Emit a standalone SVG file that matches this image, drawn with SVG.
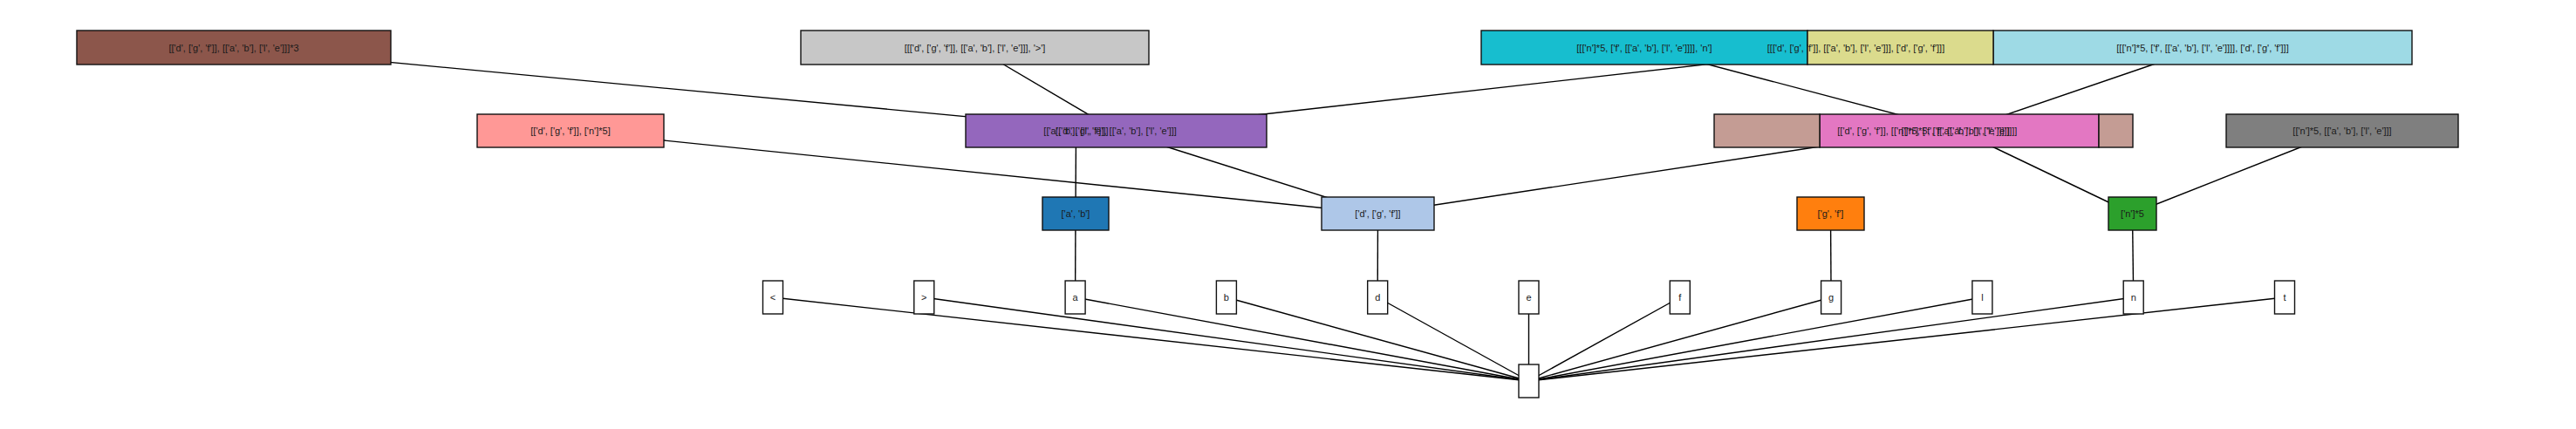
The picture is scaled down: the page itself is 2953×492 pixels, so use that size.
<svg xmlns="http://www.w3.org/2000/svg" width="2953" height="492" viewBox="0 0 2953 492">
<style>
.e{stroke:#000;stroke-width:1.4;fill:none}
.b{stroke:#111;stroke-width:1.4}
.t{font-family:"Liberation Sans",Arial,sans-serif;font-size:11px;fill:#1a1a1a;text-anchor:middle}
</style>
<rect width="2953" height="492" fill="#fff"/>
<g id="edges">
<line class="e" x1="268" y1="54.5" x2="1279.5" y2="150"/>
<line class="e" x1="1117.5" y1="54.5" x2="1279.5" y2="150"/>
<line class="e" x1="2127.5" y1="54.5" x2="1279.5" y2="150"/>
<line class="e" x1="1885" y1="54.5" x2="2246" y2="150"/>
<line class="e" x1="2525" y1="54.5" x2="2246" y2="150"/>
<line class="e" x1="1233.5" y1="150" x2="1233" y2="245"/>
<line class="e" x1="1279.5" y1="150" x2="1579.5" y2="245"/>
<line class="e" x1="654" y1="150" x2="1579.5" y2="245"/>
<line class="e" x1="2205" y1="150" x2="1579.5" y2="245"/>
<line class="e" x1="2246" y1="150" x2="2444.5" y2="245"/>
<line class="e" x1="2685" y1="150" x2="2444.5" y2="245"/>
<line class="e" x1="1233" y1="245" x2="1232.6" y2="341"/>
<line class="e" x1="1579.5" y1="245" x2="1579.2" y2="341"/>
<line class="e" x1="2098.5" y1="245" x2="2099.1" y2="341"/>
<line class="e" x1="2444.5" y1="245" x2="2445.7" y2="341"/>
<line class="e" x1="886" y1="341" x2="1752.5" y2="437"/>
<line class="e" x1="1059.3" y1="341" x2="1752.5" y2="437"/>
<line class="e" x1="1232.6" y1="341" x2="1752.5" y2="437"/>
<line class="e" x1="1405.9" y1="341" x2="1752.5" y2="437"/>
<line class="e" x1="1579.2" y1="341" x2="1752.5" y2="437"/>
<line class="e" x1="1752.5" y1="341" x2="1752.5" y2="437"/>
<line class="e" x1="1925.8" y1="341" x2="1752.5" y2="437"/>
<line class="e" x1="2099.1" y1="341" x2="1752.5" y2="437"/>
<line class="e" x1="2272.4" y1="341" x2="1752.5" y2="437"/>
<line class="e" x1="2445.7" y1="341" x2="1752.5" y2="437"/>
<line class="e" x1="2619" y1="341" x2="1752.5" y2="437"/>
</g>
<g id="node-brown"><rect class="b" x="88" y="35" width="360" height="39" fill="#8c564b"/><text class="t" x="268" y="58.5">[['d', ['g', 'f']], [['a', 'b'], ['l', 'e']]]*3</text></g>
<g id="node-graytop"><rect class="b" x="918" y="35" width="399" height="39" fill="#c7c7c7"/><text class="t" x="1117.5" y="58.5">[[['d', ['g', 'f']], [['a', 'b'], ['l', 'e']]], '&gt;']</text></g>
<g id="node-cyan"><rect class="b" x="1698" y="35" width="374" height="39" fill="#17becf"/><text class="t" x="1885" y="58.5">[[['n']*5, ['f', [['a', 'b'], ['l', 'e']]]], 'n']</text></g>
<g id="node-lightcyan"><rect class="b" x="2285" y="35" width="480" height="39" fill="#9edae5"/><text class="t" x="2525" y="58.5">[[['n']*5, ['f', [['a', 'b'], ['l', 'e']]]], ['d', ['g', 'f']]]</text></g>
<g id="node-olive"><rect class="b" x="2072" y="35" width="213" height="39" fill="#dbdb8d"/><text class="t" x="2127.5" y="58.5">[[['d', ['g', 'f']], [['a', 'b'], ['l', 'e']]], ['d', ['g', 'f']]]</text></g>
<g id="node-salmon"><rect class="b" x="547" y="131" width="214" height="38" fill="#ff9896"/><text class="t" x="654" y="154">[['d', ['g', 'f']], ['n']*5]</text></g>
<g id="node-purple"><rect class="b" x="1107" y="131" width="345" height="38" fill="#9467bd"/><text class="t" x="1279.5" y="154">[['d', ['g', 'f']], [['a', 'b'], ['l', 'e']]]</text></g>
<g id="node-ab-le"><text class="t" x="1233.5" y="154">[['a', 'b'], ['l', 'e']]</text></g>
<g id="node-pink"><rect class="b" x="2086" y="131" width="320" height="38" fill="#e377c2"/><text class="t" x="2246" y="154">[['n']*5, ['f', [['a', 'b'], ['l', 'e']]]]</text></g>
<g id="node-tan"><rect class="b" x="1965" y="131" width="121" height="38" fill="#c49c94"/><rect class="b" x="2406" y="131" width="39" height="38" fill="#c49c94"/><text class="t" x="2205" y="154">[['d', ['g', 'f']], [['n']*5, ['f', [['a', 'b'], ['l', 'e']]]]]</text></g>
<g id="node-grayright"><rect class="b" x="2552" y="131" width="266" height="38" fill="#7f7f7f"/><text class="t" x="2685" y="154">[['n']*5, [['a', 'b'], ['l', 'e']]]</text></g>
<g id="node-ab"><rect class="b" x="1195" y="226" width="76" height="38" fill="#1f77b4"/><text class="t" x="1233" y="249">['a', 'b']</text></g>
<g id="node-dgf"><rect class="b" x="1515" y="226" width="129" height="38" fill="#aec7e8"/><text class="t" x="1579.5" y="249">['d', ['g', 'f']]</text></g>
<g id="node-gf"><rect class="b" x="2060" y="226" width="77" height="38" fill="#ff7f0e"/><text class="t" x="2098.5" y="249">['g', 'f']</text></g>
<g id="node-n5"><rect class="b" x="2417" y="226" width="55" height="38" fill="#2ca02c"/><text class="t" x="2444.5" y="249">['n']*5</text></g>
<g id="leaf-lt"><rect class="b" x="874.5" y="322" width="23" height="38" fill="#fff"/><text class="t" x="886" y="345">&lt;</text></g>
<g id="leaf-gt"><rect class="b" x="1047.8" y="322" width="23" height="38" fill="#fff"/><text class="t" x="1059.3" y="345">&gt;</text></g>
<g id="leaf-a"><rect class="b" x="1221.1" y="322" width="23" height="38" fill="#fff"/><text class="t" x="1232.6" y="345">a</text></g>
<g id="leaf-b"><rect class="b" x="1394.4" y="322" width="23" height="38" fill="#fff"/><text class="t" x="1405.9" y="345">b</text></g>
<g id="leaf-d"><rect class="b" x="1567.7" y="322" width="23" height="38" fill="#fff"/><text class="t" x="1579.2" y="345">d</text></g>
<g id="leaf-e"><rect class="b" x="1741" y="322" width="23" height="38" fill="#fff"/><text class="t" x="1752.5" y="345">e</text></g>
<g id="leaf-f"><rect class="b" x="1914.3" y="322" width="23" height="38" fill="#fff"/><text class="t" x="1925.8" y="345">f</text></g>
<g id="leaf-g"><rect class="b" x="2087.6" y="322" width="23" height="38" fill="#fff"/><text class="t" x="2099.1" y="345">g</text></g>
<g id="leaf-l"><rect class="b" x="2260.9" y="322" width="23" height="38" fill="#fff"/><text class="t" x="2272.4" y="345">l</text></g>
<g id="leaf-n"><rect class="b" x="2434.2" y="322" width="23" height="38" fill="#fff"/><text class="t" x="2445.7" y="345">n</text></g>
<g id="leaf-t"><rect class="b" x="2607.5" y="322" width="23" height="38" fill="#fff"/><text class="t" x="2619" y="345">t</text></g>
<g id="node-root"><rect class="b" x="1741" y="418" width="23" height="38" fill="#fff"/></g>
</svg>
